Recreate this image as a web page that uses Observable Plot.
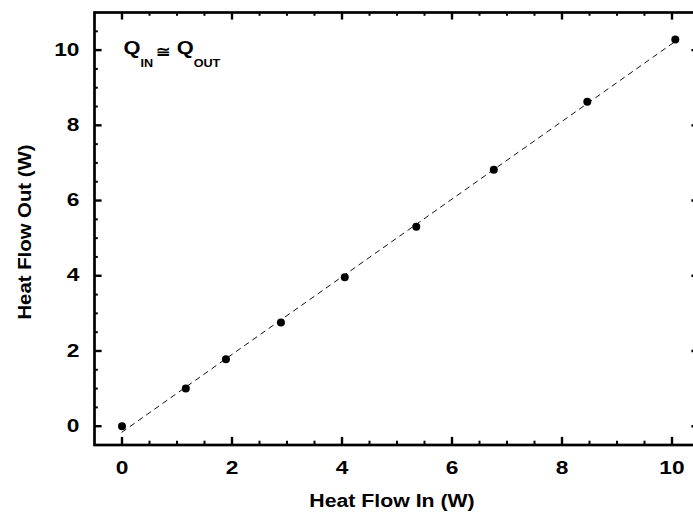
<!DOCTYPE html>
<html>
<head>
<meta charset="utf-8">
<script src="https://cdn.jsdelivr.net/npm/d3@7"></script>
<script src="https://cdn.jsdelivr.net/npm/@observablehq/plot@0.6"></script>
<style>
  html, body { margin: 0; padding: 0; background: #fff; overflow: hidden; }
</style>
</head>
<body>
<div id="chart"></div>
<script>
// ---- data ----
const heatIn  = [0, 1.16, 1.89, 2.89, 4.05, 5.35, 6.76, 8.46, 10.06];
const heatOut = [0, 1.00, 1.78, 2.76, 3.96, 5.30, 6.82, 8.63, 10.28];

// ---- axes ----
const xDomain = [-0.5, 10.5];
const yDomain = [-0.5, 11];
const xMajorTicks = [0, 2, 4, 6, 8, 10];
const yMajorTicks = [0, 2, 4, 6, 8, 10];
const xMinorTicks = [0.5, 1, 1.5, 2.5, 3, 3.5, 4.5, 5, 5.5, 6.5, 7, 7.5, 8.5, 9, 9.5, 10.5];
const yMinorTicks = [0.5, 1, 1.5, 2.5, 3, 3.5, 4.5, 5, 5.5, 6.5, 7, 7.5, 8.5, 9, 9.5, 10.5];
const xTitle = "Heat Flow In (W)";
const yTitle = "Heat Flow Out (W)";
const annoPos = {x: 0.0345, y: 9.87};
const annoParts = ["Q", "IN", "\u2245", "Q", "OUT"];

const data = heatIn.map((x, i) => ({x, y: heatOut[i]}));
const font = "'Liberation Sans', Arial, Helvetica, sans-serif";

// layout
const W = 693, H = 514, mL = 94, mR = -6, mT = 12, mB = 69.5;
const pxPerX = (W - mL - mR) / (xDomain[1] - xDomain[0]);
const pxPerY = (H - mT - mB) / (yDomain[1] - yDomain[0]);
const majorLen = 7.6, minorLen = 3.8;

// inward tick marks on all four sides, as Plot rules
function tickRules(xs, ys, len, w) {
  const dx = len / pxPerX, dy = len / pxPerY;
  const o = {stroke: "black", strokeWidth: w};
  return [
    Plot.ruleX(xs, {x: d => d, y1: yDomain[0], y2: yDomain[0] + dy, ...o}),
    Plot.ruleX(xs, {x: d => d, y1: yDomain[1], y2: yDomain[1] - dy, ...o}),
    Plot.ruleY(ys, {y: d => d, x1: xDomain[0], x2: xDomain[0] + dx, ...o}),
    Plot.ruleY(ys, {y: d => d, x1: xDomain[1], x2: xDomain[1] - dx, ...o})
  ];
}

function annotationMark(index, scales) {
  const px = scales.x(annoPos.x), py = scales.y(annoPos.y);
  const t = d3.create("svg:text")
    .attr("class", "anno")
    .attr("transform", `translate(${px},${py}) scale(1.15,1)`)
    .attr("text-anchor", "start")
    .attr("font-family", font)
    .attr("font-weight", "bold")
    .attr("font-size", 19)
    .attr("fill", "black");
  t.append("tspan").text(annoParts[0]);
  t.append("tspan").attr("font-size", 11).attr("dy", 12.2).text(annoParts[1]);
  t.append("tspan").attr("font-size", 15).attr("dy", -9.7).attr("dx", 3).text(annoParts[2]);
  t.append("tspan").attr("dy", -2.5).attr("dx", 5.5).text(annoParts[3]);
  t.append("tspan").attr("font-size", 11).attr("dy", 12.2).text(annoParts[4]);
  return t.node();
}

const chart = Plot.plot({
  width: W,
  height: H,
  marginLeft: mL,
  marginRight: mR,
  marginTop: mT,
  marginBottom: mB,
  x: {domain: xDomain},
  y: {domain: yDomain},
  style: {fontFamily: font, background: "white"},
  marks: [
    Plot.frame({stroke: "black", strokeWidth: 2.7}),
    ...tickRules(xMajorTicks, yMajorTicks, majorLen, 2.4),
    ...tickRules(xMinorTicks, yMinorTicks, minorLen, 2),
    Plot.axisX(xMajorTicks, {anchor: "bottom", tickSize: 0, tickPadding: 17, label: null,
      fontSize: 17.5, fontWeight: "bold", fill: "black"}),
    Plot.axisY(yMajorTicks, {anchor: "left", tickSize: 0, tickPadding: 15, label: null,
      fontSize: 17.5, fontWeight: "bold", fill: "black"}),
    Plot.linearRegressionY(data, {x: "x", y: "y", ci: 0, stroke: "#111", strokeWidth: 1, strokeDasharray: "5,5"}),
    Plot.dot(data, {x: "x", y: "y", r: 4, fill: "black", stroke: "none"}),
    Plot.text([xTitle], {text: d => d, frameAnchor: "bottom", textAnchor: "middle", dx: -5, dy: 56, lineAnchor: "middle",
      fontSize: 18.5, fontWeight: "bold", fill: "black"}),
    Plot.text([yTitle], {text: d => d, frameAnchor: "left", textAnchor: "middle", rotate: -90, dx: -69.8, dy: 3.3, lineAnchor: "middle",
      fontSize: 18.5, fontWeight: "bold", fill: "black"}),
    annotationMark
  ]
});

// horizontally widen the bold labels to match the reference lettering
d3.select(chart).selectAll("text").each(function() {
  if (this.classList.contains("anno")) return;
  const parent = this.parentNode && this.parentNode.getAttribute("aria-label") || "";
  const isTick = parent.includes("tick label");
  const isY = this.textContent === yTitle;
  const s = isTick ? 1.3 : isY ? 1.1 : 1.15;
  const tr = this.getAttribute("transform");
  if (tr) {
    this.setAttribute("transform", tr + ` scale(${s},1)`);
  } else {
    const x = +(this.getAttribute("x") || 0), y = +(this.getAttribute("y") || 0);
    this.removeAttribute("x"); this.removeAttribute("y");
    this.setAttribute("transform", `translate(${x},${y}) scale(${s},1)`);
  }
});

document.getElementById("chart").appendChild(chart);
</script>
</body>
</html>
